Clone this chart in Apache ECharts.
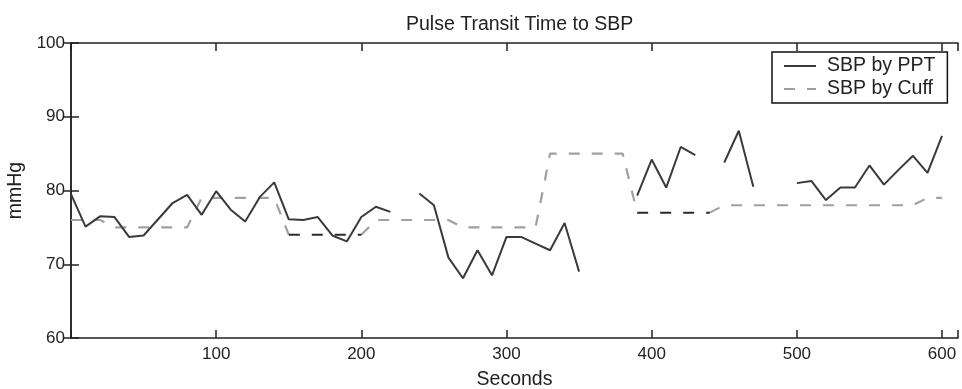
<!DOCTYPE html>
<html>
<head>
<meta charset="utf-8">
<script src="https://cdn.jsdelivr.net/npm/echarts@6/dist/echarts.min.js"></script>
<style>
html,body{margin:0;padding:0;background:#fff;}
#chart{width:962px;height:389px;}
</style>
</head>
<body>
<div id="chart"></div>
<script>
// Time samples (seconds)
const seconds = [0,10,20,30,40,50,60,70,80,90,100,110,120,130,140,150,160,170,180,190,200,210,220,230,240,250,260,270,280,290,300,310,320,330,340,350,360,370,380,390,400,410,420,430,440,450,460,470,480,490,500,510,520,530,540,550,560,570,580,590,600];

// SBP estimated from pulse transit time (null = gap)
const sbpPPT = [79.5,75.1,76.5,76.4,73.7,73.9,76.1,78.3,79.4,76.7,79.9,77.4,75.8,79.1,81.1,76.1,76.0,76.4,73.9,73.1,76.4,77.8,77.1,null,79.6,78.0,70.9,68.1,71.9,68.5,73.7,73.7,72.8,71.9,75.6,69.0,null,null,null,79.3,84.2,80.4,85.9,84.8,null,83.8,88.1,80.5,null,null,81.0,81.3,78.7,80.4,80.4,83.4,80.8,82.8,84.7,82.4,87.4];

// SBP measured by cuff
const sbpCuff = [76,76,76,75,75,75,75,75,75,79,79,79,79,79,79,74,74,74,74,74,74,76,76,76,76,76,76,75,75,75,75,75,75,85,85,85,85,85,85,77,77,77,77,77,77,78,78,78,78,78,78,78,78,78,78,78,78,78,78,79,79];

// Stretches of the cuff trace that print darker in the source
const darkRanges = [[150,200],[390,440]];

const xTicks = [100,200,300,400,500,600];
const yTicks = [60,70,80,90,100];

function inDark(t){ return darkRanges.some(r => t > r[0] && t < r[1]); }
function isDarkEnd(t){ return darkRanges.some(r => t === r[0] || t === r[1]); }

const pptData = seconds.map((t,i)=>[t, sbpPPT[i]]);
const cuffLight = seconds.map((t,i)=>[t, inDark(t) ? null : sbpCuff[i]]);
const cuffDark = seconds.map((t,i)=>[t, (inDark(t)||isDarkEnd(t)) ? sbpCuff[i] : null]);

const FONT = 'Liberation Sans';
const chart = echarts.init(document.getElementById('chart'), null, {renderer:'canvas'});

const axisLine = {show:true, lineStyle:{color:'#222', width:1.5}};
const tick = {show:true, inside:true, length:8, lineStyle:{color:'#222', width:1.5}};

chart.setOption({
  animation:false,
  backgroundColor:'#fff',
  title:{
    text:'Pulse Transit Time to SBP',
    left:401, top:10,
    textStyle:{fontFamily:FONT, fontSize:19.5, fontWeight:'normal', color:'#222'}
  },
  legend:{
    data:['SBP by PPT','SBP by Cuff'],
    orient:'vertical',
    left:772, top:52,
    backgroundColor:'#fff',
    borderColor:'#111', borderWidth:1.5,
    padding:[4,12,4,11],
    itemWidth:32, itemHeight:14, itemGap:3,
    itemStyle:{color:'rgba(0,0,0,0)', borderWidth:0},
    textStyle:{fontFamily:FONT, fontSize:19.5, lineHeight:20, color:'#222', padding:[0,0,0,6]}
  },
  grid:{left:71, right:4, top:43, bottom:51, containLabel:false, outerBoundsMode:'none'},
  xAxis:[{
    type:'value', min:0, max:611, interval:100,
    name:'Seconds', nameLocation:'middle', nameGap:32,
    nameTextStyle:{fontFamily:FONT, fontSize:19.5, color:'#222'},
    axisLine:axisLine, axisTick:tick, splitLine:{show:false},
    axisLabel:{fontFamily:FONT, fontSize:17, color:'#222', margin:8,
      formatter:v => xTicks.includes(v) ? String(v) : ''}
  },{
    type:'value', min:0, max:611, interval:100, position:'top',
    axisLine:axisLine, axisTick:tick, splitLine:{show:false}, axisLabel:{show:false}
  }],
  yAxis:[{
    type:'value', min:60, max:100, interval:10,
    name:'mmHg', nameLocation:'middle', nameGap:41, nameRotate:90,
    nameTextStyle:{fontFamily:FONT, fontSize:19.5, color:'#222'},
    axisLine:axisLine, axisTick:tick, splitLine:{show:false},
    axisLabel:{fontFamily:FONT, fontSize:17, color:'#222', margin:6,
      formatter:v => yTicks.includes(v) ? String(v) : ''}
  },{
    type:'value', min:60, max:100, interval:10, position:'right',
    axisLine:axisLine, axisTick:tick, splitLine:{show:false}, axisLabel:{show:false}
  }],
  series:[
    {name:'SBP by PPT', type:'line', data:pptData, symbol:'none', connectNulls:false,
     lineStyle:{color:'#3a3a3a', width:2}, itemStyle:{color:'#3a3a3a'}, z:3},
    {name:'SBP by Cuff', type:'line', data:cuffLight, symbol:'none', connectNulls:false,
     lineStyle:{color:'#a0a0a0', width:2.2, type:[11,12]}, itemStyle:{color:'#a0a0a0'}, z:2},
    {name:'SBP by Cuff (dark)', type:'line', data:cuffDark, symbol:'none', connectNulls:false,
     lineStyle:{color:'#2a2a2a', width:2, type:[11,12]}, itemStyle:{color:'#2a2a2a'}, z:2}
  ]
});
</script>
</body>
</html>
